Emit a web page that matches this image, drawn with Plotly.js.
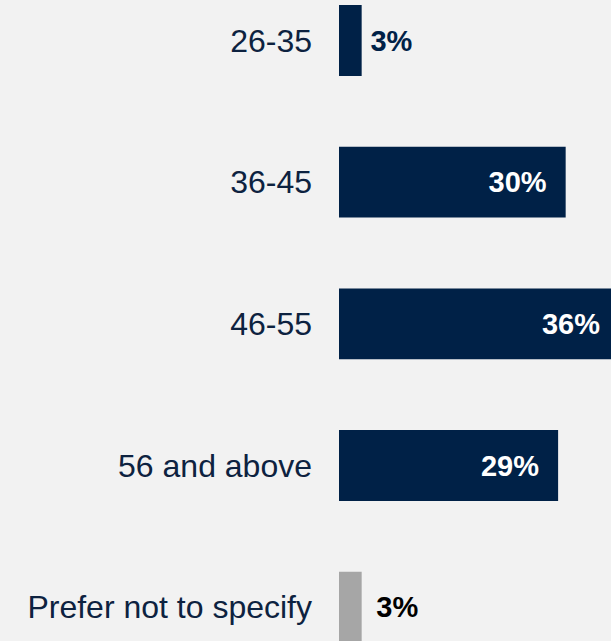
<!DOCTYPE html>
<html>
<head>
<meta charset="utf-8">
<script src="https://cdn.plot.ly/plotly-3.0.1.min.js"></script>
<style>html,body{margin:0;padding:0;background:#f2f2f2;}#chart{width:611px;height:641px;}</style>
</head>
<body>
<div id="chart"></div>
<script>
var categories = ['26-35', '36-45', '46-55', '56 and above', 'Prefer not to specify'];
var values = [3, 30, 36, 29, 3];

var navy = '#002147';
var barColors = [navy, navy, navy, navy, '#a6a6a6'];
var textPos = ['outside', 'inside', 'inside', 'inside', 'outside'];
var textColors = [navy, '#ffffff', '#ffffff', '#ffffff', '#000000'];
var pads = ['\u2009', '\u00a0\u00a0', '\u00a0', '\u00a0\u00a0', '\u2009\u2009'];
var labels = values.map(function (v, i) {
  return textPos[i] === 'outside' ? pads[i] + v + '%' : v + '%' + pads[i];
});

var trace = {
  type: 'bar',
  orientation: 'h',
  y: categories,
  x: values,
  text: labels,
  textposition: textPos,
  insidetextanchor: 'end',
  constraintext: 'none',
  cliponaxis: false,
  textfont: { family: 'Liberation Sans, Arial, sans-serif', size: 29, color: textColors, weight: 'bold' },
  marker: { color: barColors, line: { width: 0 } },
  hoverinfo: 'none'
};

var layout = {
  width: 611,
  height: 641,
  margin: { l: 339, r: 0, t: 0, b: 0, pad: 0 },
  paper_bgcolor: '#f2f2f2',
  plot_bgcolor: '#f2f2f2',
  bargap: 0.5,
  showlegend: false,
  font: { family: 'Liberation Sans, Arial, sans-serif' },
  xaxis: {
    range: [0, 36],
    showgrid: false, zeroline: false, showline: false,
    showticklabels: false, ticks: '', fixedrange: true
  },
  yaxis: {
    type: 'category',
    categoryorder: 'array',
    categoryarray: categories,
    range: [4.2386, -0.2859],
    autorange: false,
    showgrid: false, zeroline: false, showline: false,
    ticks: '',
    ticklabelstandoff: 26,
    tickfont: { family: 'Liberation Sans, Arial, sans-serif', size: 32, color: '#0d2240' }
  }
};

Plotly.newPlot('chart', [trace], layout, { displayModeBar: false, staticPlot: true });
</script>
</body>
</html>
